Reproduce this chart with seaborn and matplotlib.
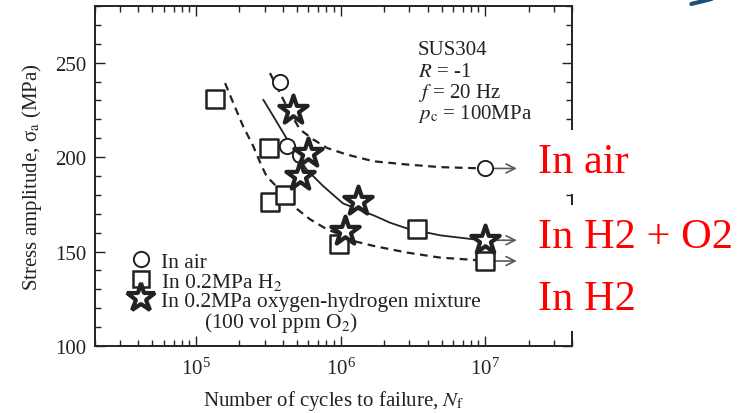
import numpy as np
import pandas as pd
import matplotlib
matplotlib.use("Agg")
import matplotlib.pyplot as plt
from matplotlib.lines import Line2D
from matplotlib.ticker import MultipleLocator
import seaborn as sns

# measured points: cycles to failure and stress amplitude (MPa)
air_n = [3.8e5, 4.25e5, 5.25e5, 1.0e7]
air_s = [240, 206, 201, 194]
h2_n = [1.35e5, 3.2e5, 3.25e5, 4.13e5, 9.7e5, 3.37e6, 1.0e7]
h2_s = [231, 205, 176, 180, 154, 162, 145]
mix_n = [4.7e5, 6.0e5, 5.25e5, 1.33e6, 1.07e6, 1.0e7]
mix_s = [225, 202, 190, 177, 161, 156]

# S-N curves
air_curve_n = [3.25e5, 3.81e5, 4.48e5, 5.25e5, 6.49e5, 8.04e5, 1.10e6, 1.69e6, 2.87e6, 4.89e6, 1.0e7]
air_curve_s = [244.5, 234.0, 223.4, 214.6, 209.3, 204.9, 201.4, 197.8, 196.1, 194.7, 194.0]
h2_curve_n = [1.59e5, 1.81e5, 2.12e5, 2.49e5, 2.85e5, 3.08e5, 3.61e5, 4.71e5, 6.15e5, 8.04e5,
              9.93e5, 1.23e6, 1.69e6, 2.87e6, 4.89e6, 8.3e6, 1.0e7]
h2_curve_s = [239.2, 228.7, 216.3, 205.8, 195.2, 189.9, 184.4, 174.1, 167.1, 161.8,
              159.1, 155.6, 153.0, 149.5, 146.8, 145.6, 145.0]
mix_curve_n = [2.92e5, 3.43e5, 4.02e5, 4.84e5, 5.83e5, 7.6e5, 1.04e6, 1.69e6, 2.2e6, 2.87e6,
               4.89e6, 8.3e6, 1.0e7]
mix_curve_s = [230.4, 221.6, 212.8, 202.5, 193.4, 184.6, 175.5, 169.2, 165.3, 162.3,
               158.6, 156.5, 156.0]

# run-outs at 1e7 cycles (arrows)
runout_s = [194, 156, 145]
runout_end = 1.66e7

legend_labels = ["In air", "In 0.2MPa H$_2$",
                 "In 0.2MPa oxygen-hydrogen mixture",
                 "        (100 vol ppm O$_2$)"]
side_labels = ["In air", "In H2 + O2", "In H2"]

sns.set_theme(style="ticks")
plt.rcParams["font.family"] = ["Liberation Serif", "DejaVu Serif"]
plt.rcParams["mathtext.fontset"] = "stix"

fig = plt.figure(figsize=(7.45, 4.14), dpi=100)
ax = fig.add_axes([0.1275, 0.1618, 0.6403, 0.8213])

ink = "#222222"
sns.lineplot(x=air_curve_n, y=air_curve_s, ax=ax, color=ink, lw=1.6,
             linestyle=(0, (3.5, 2.5)), sort=False, estimator=None, zorder=2)
sns.lineplot(x=h2_curve_n, y=h2_curve_s, ax=ax, color=ink, lw=1.6,
             linestyle=(0, (3.5, 2.5)), sort=False, estimator=None, zorder=2)
sns.lineplot(x=mix_curve_n, y=mix_curve_s, ax=ax, color=ink, lw=1.3,
             sort=False, estimator=None, zorder=2)

for s in runout_s:
    ax.annotate("", xy=(runout_end, s), xytext=(1.0e7, s),
                arrowprops=dict(arrowstyle="->", color="0.35", lw=1.2,
                                shrinkA=6, shrinkB=0, mutation_scale=16),
                zorder=1)

sns.scatterplot(x=air_n, y=air_s, ax=ax, marker="o", s=120, facecolor="white",
                edgecolor=ink, linewidth=1.4, zorder=4)
sns.scatterplot(x=h2_n, y=h2_s, ax=ax, marker="s", s=150, facecolor="white",
                edgecolor=ink, linewidth=1.8, zorder=4)
sns.scatterplot(x=mix_n, y=mix_s, ax=ax, marker="*", s=460, facecolor="white",
                edgecolor=ink, linewidth=3.0, zorder=5)

ax.set_xscale("log")
ax.set_xlim(2e4, 4e7)
ax.set_ylim(100, 280)
ax.yaxis.set_major_locator(MultipleLocator(50))
ax.yaxis.set_minor_locator(MultipleLocator(10))
ax.tick_params(which="both", direction="in", top=True, right=True,
               colors=ink, labelsize=15, width=1.0)
ax.tick_params(which="major", length=7, pad=6)
ax.tick_params(which="minor", length=4)
ax.tick_params(axis="x", which="major", pad=8)
for sp in ax.spines.values():
    sp.set_linewidth(1.4)
    sp.set_color(ink)

ax.set_xlabel("Number of cycles to failure, $N_\\mathrm{f}$", fontsize=15,
              color=ink, labelpad=7)
ax.set_ylabel("Stress amplitude, σ$_\\mathrm{a}$ (MPa)", fontsize=15,
              color=ink, labelpad=8)

info = ["SUS304", "$R$ = -1", "$f$ = 20 Hz", "$p_\\mathrm{c}$ = 100MPa"]
info_y = [0.859, 0.794, 0.732, 0.671]
for t, yy in zip(info, info_y):
    ax.text(0.677, yy, t, transform=ax.transAxes, fontsize=15, color=ink,
            va="baseline", ha="left")

handles = [
    Line2D([], [], marker="o", ls="none", ms=11, mfc="white", mec=ink, mew=1.4),
    Line2D([], [], marker="s", ls="none", ms=12, mfc="white", mec=ink, mew=1.8),
    Line2D([], [], marker="*", ls="none", ms=21, mfc="white", mec=ink, mew=3.0),
    Line2D([], [], ls="none"),
]
leg = ax.legend(handles, legend_labels, loc="upper left",
                bbox_to_anchor=(0.073, 0.277), frameon=False, fontsize=15.5,
                handlelength=1.0, handletextpad=0.45, labelspacing=-0.05,
                borderpad=0, borderaxespad=0)
for t in leg.get_texts():
    t.set_color(ink)

side_y = [173, 248, 310]
for t, yy in zip(side_labels, side_y):
    fig.text(538 / 745, 1 - yy / 414, t, fontsize=30.5, color="red",
             va="baseline", ha="left", zorder=10,
             bbox=dict(boxstyle="square,pad=0.3", fc="white", ec="none"))

fig.add_artist(Line2D([0.928, 0.955], [0.988, 1.0], transform=fig.transFigure,
                      color="#1f4e79", lw=3))

fig.savefig("out.png", dpi=100)
plt.close(fig)
